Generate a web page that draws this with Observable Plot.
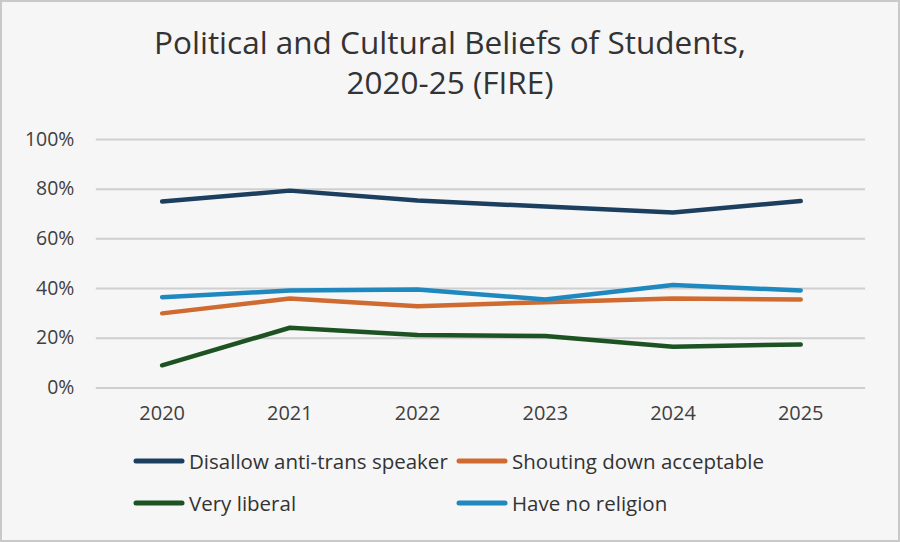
<!DOCTYPE html>
<html>
<head>
<meta charset="utf-8">
<script src="https://cdn.jsdelivr.net/npm/d3@7"></script>
<script src="https://cdn.jsdelivr.net/npm/@observablehq/plot@0.6"></script>
<style>
  html, body { margin: 0; padding: 0; background: #fff; }
  #frame {
    position: relative; width: 896px; height: 538px;
    border: 2px solid #c9c9c9; background: #f6f6f6;
    font-family: "Open Sans", "Liberation Sans", sans-serif; color: #333;
    overflow: hidden;
  }
  #title {
    position: absolute; left: 0; top: 20px; width: 896px;
    text-align: center; font-size: 31.5px; line-height: 40px; color: #333;
  }
  #chart { position: absolute; left: -2px; top: 115px; }
  #legend { position: absolute; left: 0; top: 0; }
  .item { position: absolute; display: flex; align-items: center; font-size: 20.5px; color: #333; white-space: nowrap; }
  .item svg { margin-right: 4px; }
</style>
</head>
<body>
<div id="frame">
  <div id="title">Political and Cultural Beliefs of Students,<br>2020-25 (FIRE)</div>
  <div id="chart"></div>
  <div id="legend"></div>
</div>
<script>
// Survey years
const years = [2020, 2021, 2022, 2023, 2024, 2025];

// Share of students (%) per series
const disallowSpeaker = [75, 79.4, 75.4, 73, 70.6, 75.2];
const shoutingDown    = [30, 36, 32.9, 34.5, 36, 35.6];
const veryLiberal     = [9.1, 24.2, 21.3, 20.9, 16.6, 17.5];
const noReligion      = [36.5, 39.2, 39.6, 35.6, 41.4, 39.2];

const seriesNames  = ["Disallow anti-trans speaker", "Shouting down acceptable", "Very liberal", "Have no religion"];
const seriesColors = ["#1c3e5f", "#cf6a30", "#1d5322", "#1f88bf"];
const seriesValues = [disallowSpeaker, shoutingDown, veryLiberal, noReligion];

const yTicks = [0, 20, 40, 60, 80, 100];

const rows = seriesNames.flatMap((name, i) =>
  years.map((year, j) => ({series: name, year, value: seriesValues[i][j]}))
);

const chart = Plot.plot({
  width: 900,
  height: 314,
  marginLeft: 96,
  marginRight: 33,
  marginTop: 22,
  marginBottom: 43,
  style: {background: "transparent", fontFamily: "'Open Sans', 'Liberation Sans', sans-serif", color: "#404040"},
  x: {type: "point", domain: years, padding: 0.5, label: null},
  y: {domain: [0, 100], label: null},
  color: {domain: seriesNames, range: seriesColors},
  marks: [
    Plot.ruleY(yTicks, {stroke: "#cfcfcf", strokeWidth: 2}),
    Plot.axisY({ticks: yTicks, tickSize: 0, tickPadding: 22, tickFormat: d => d + "%", fontSize: 19.5, label: null}),
    Plot.axisX({tickSize: 0, tickPadding: 18, tickFormat: d => String(d), fontSize: 20, label: null}),
    Plot.line(rows, {x: "year", y: "value", z: "series", stroke: "series", strokeWidth: 4.5, strokeLinecap: "round", strokeLinejoin: "round"})
  ]
});
document.getElementById("chart").appendChild(chart);

// Legend: two columns, two rows of line swatches
const legend = document.getElementById("legend");
const legendPos = [[131, 461], [454, 461], [131, 503], [454, 503]];
seriesNames.forEach((name, i) => {
  const item = document.createElement("div");
  item.className = "item";
  item.style.left = legendPos[i][0] + "px";
  item.style.top = (legendPos[i][1] - 16) + "px";
  item.innerHTML = `<svg width="52" height="10"><line x1="3" y1="5" x2="49" y2="5" stroke="${seriesColors[i]}" stroke-width="5" stroke-linecap="round"/></svg><span>${name}</span>`;
  legend.appendChild(item);
});
</script>
</body>
</html>
